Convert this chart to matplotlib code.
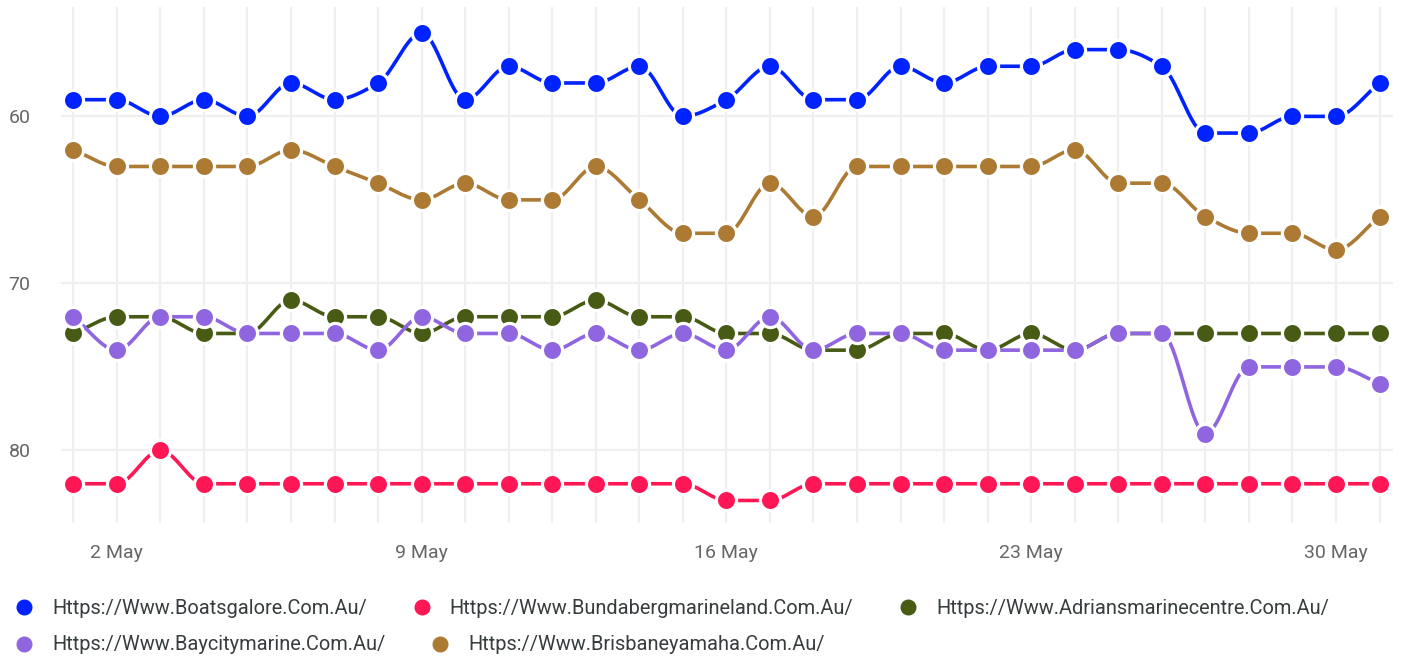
import matplotlib
matplotlib.use("Agg")
import matplotlib.pyplot as plt
from matplotlib.lines import Line2D
import numpy as np

plt.rcParams['font.family'] = ['Roboto', 'DejaVu Sans']

# Data (rank per day, May 1 - May 31)
days = list(range(1, 32))
tick_days = [2, 9, 16, 23, 30]
tick_labels = ['2 May', '9 May', '16 May', '23 May', '30 May']

boatsgalore = [59, 59, 60, 59, 60, 58, 59, 58, 55, 59, 57, 58, 58, 57, 60, 59,
               57, 59, 59, 57, 58, 57, 57, 56, 56, 57, 61, 61, 60, 60, 58]
bundaberg = [82, 82, 80, 82, 82, 82, 82, 82, 82, 82, 82, 82, 82, 82, 82, 83,
             83, 82, 82, 82, 82, 82, 82, 82, 82, 82, 82, 82, 82, 82, 82]
adrians = [73, 72, 72, 73, 73, 71, 72, 72, 73, 72, 72, 72, 71, 72, 72, 73,
           73, 74, 74, 73, 73, 74, 73, 74, 73, 73, 73, 73, 73, 73, 73]
baycity = [72, 74, 72, 72, 73, 73, 73, 74, 72, 73, 73, 74, 73, 74, 73, 74,
           72, 74, 73, 73, 74, 74, 74, 74, 73, 73, 79, 75, 75, 75, 76]
brisbane = [62, 63, 63, 63, 63, 62, 63, 64, 65, 64, 65, 65, 63, 65, 67, 67,
            64, 66, 63, 63, 63, 63, 63, 62, 64, 64, 66, 67, 67, 68, 66]

series = [
    ('Https://Www.Boatsgalore.Com.Au/', boatsgalore, '#0022FF'),
    ('Https://Www.Bundabergmarineland.Com.Au/', bundaberg, '#FF1654'),
    ('Https://Www.Adriansmarinecentre.Com.Au/', adrians, '#475B14'),
    ('Https://Www.Baycitymarine.Com.Au/', baycity, '#8F66E0'),
    ('Https://Www.Brisbaneyamaha.Com.Au/', brisbane, '#AC7A32'),
]


def smooth(x, y, n=20):
    # monotone cubic (Fritsch-Carlson) curve through the points
    x = np.asarray(x, float)
    y = np.asarray(y, float)
    h = np.diff(x)
    d = np.diff(y) / h
    m = np.zeros_like(y)
    m[0], m[-1] = d[0], d[-1]
    for i in range(1, len(y) - 1):
        if d[i - 1] * d[i] > 0:
            m[i] = 2 * d[i - 1] * d[i] / (d[i - 1] + d[i])
    xs, ys = [], []
    for i in range(len(h)):
        t = np.linspace(0, 1, n, endpoint=(i == len(h) - 1))
        h00 = 2 * t**3 - 3 * t**2 + 1
        h10 = t**3 - 2 * t**2 + t
        h01 = -2 * t**3 + 3 * t**2
        h11 = t**3 - t**2
        xs.append(x[i] + t * h[i])
        ys.append(h00 * y[i] + h10 * h[i] * m[i] + h01 * y[i + 1] + h11 * h[i] * m[i + 1])
    return np.concatenate(xs), np.concatenate(ys)


fig = plt.figure(figsize=(14.03, 6.57), dpi=100)
ax = fig.add_axes([61 / 1403, 1 - 523 / 657, 1332 / 1403, 516 / 657])

for name, vals, col in series:
    sx, sy = smooth(days, vals)
    ax.plot(sx, sy, color=col, lw=2.6, zorder=3, solid_capstyle='butt')
for name, vals, col in series:
    ax.plot(days, vals, 'o', color=col, markersize=14.5, markeredgecolor='white',
            markeredgewidth=2.3, zorder=4)

ax.set_xlim(0.717, 31.31)
ax.set_ylim(84.35, 53.45)
ax.set_xticks(days, minor=True)
ax.set_xticks(tick_days)
ax.set_xticklabels(tick_labels)
ax.set_yticks([60, 70, 80])
ax.grid(True, which='both', axis='x', color='#efefef', lw=1.6, zorder=0)
ax.grid(True, which='major', axis='y', color='#efefef', lw=1.6, zorder=0)
ax.tick_params(which='both', length=0)
ax.tick_params(axis='x', pad=15, labelsize=14, labelcolor='#666666')
ax.tick_params(axis='y', pad=22, labelsize=14, labelcolor='#666666')
for s in ax.spines.values():
    s.set_visible(False)

# legend rows
def handles(items):
    return [Line2D([], [], marker='o', ls='none', color=c, markersize=10.5) for _, _, c in items]

rows = [series[:3], series[3:]]
for row, yc in zip(rows, [608, 645]):
    fig.legend(handles(row), [r[0] for r in row], loc='center left',
               bbox_to_anchor=(14 / 1403, 1 - yc / 657), ncol=len(row),
               frameon=False, fontsize=14.4, handlelength=1.0, handletextpad=0.9,
               columnspacing=2.25, borderpad=0, borderaxespad=0,
               labelcolor='#373d3f')

fig.savefig('out.png', dpi=100)
